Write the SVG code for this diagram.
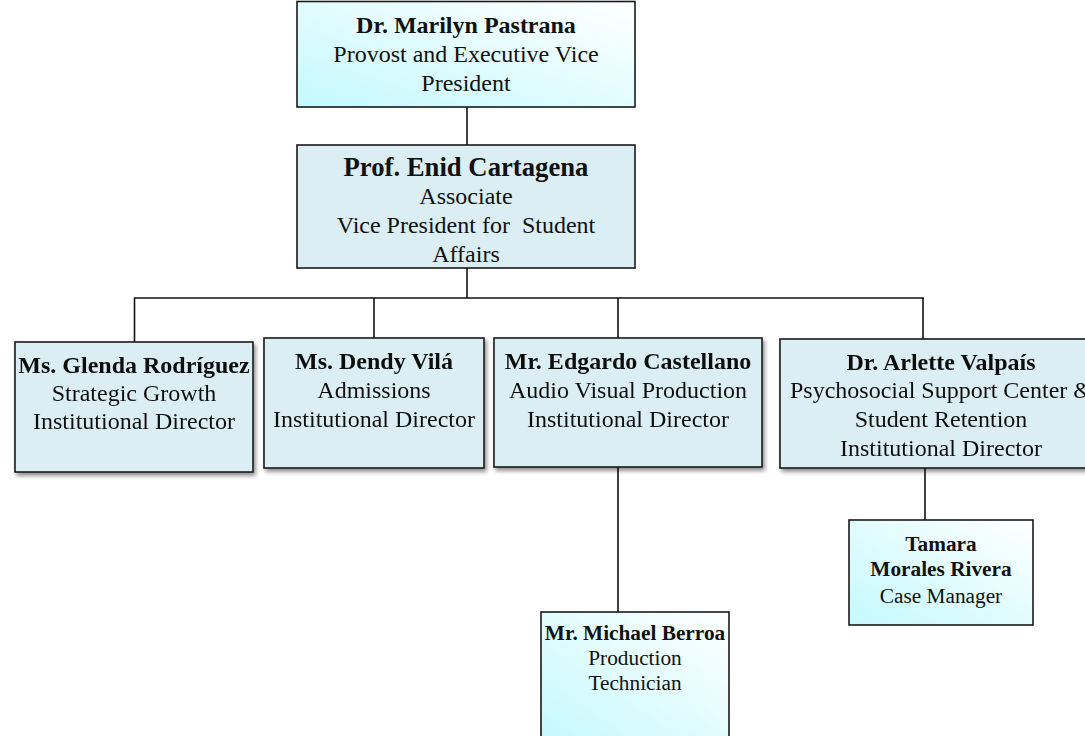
<svg xmlns="http://www.w3.org/2000/svg" width="1085" height="736" viewBox="0 0 1085 736">
<defs>
<linearGradient id="cyan" x1="0" y1="1" x2="1" y2="0">
<stop offset="0" stop-color="#c4f9fd"/>
<stop offset="1" stop-color="#ffffff"/>
</linearGradient>
<filter id="sh" x="-10%" y="-10%" width="125%" height="130%">
<feGaussianBlur in="SourceAlpha" stdDeviation="2"/>
<feOffset dx="2" dy="3" result="b"/>
<feComponentTransfer><feFuncA type="linear" slope="0.45"/></feComponentTransfer>
<feMerge><feMergeNode/><feMergeNode in="SourceGraphic"/></feMerge>
</filter>
</defs>
<style>
.box{stroke:#1a1a1a;stroke-width:1.6}
.blue{fill:#daeef3}
.grad{fill:url(#cyan)}
text{font-family:"Liberation Serif","Times New Roman",serif;fill:#111;text-anchor:middle}
.b{font-weight:bold}
.t24{font-size:24px}
.t27{font-size:26.7px}
.t21{font-size:21.3px}
.conn line{stroke:#111;stroke-width:1.6}
</style>
<rect width="1085" height="736" fill="#ffffff"/>
<g id="connectors" class="conn">
<line x1="467" y1="107" x2="467" y2="145"/>
<line x1="467" y1="268" x2="467" y2="298"/>
<line x1="134" y1="298" x2="923.8" y2="298"/>
<line x1="134.5" y1="298" x2="134.5" y2="342"/>
<line x1="374" y1="298" x2="374" y2="338"/>
<line x1="618" y1="298" x2="618" y2="338"/>
<line x1="923" y1="298" x2="923" y2="339"/>
<line x1="618" y1="467" x2="618" y2="612"/>
<line x1="925" y1="468" x2="925" y2="520"/>
</g>
<g id="marilyn">
<rect class="box grad" x="297" y="1.5" width="338" height="105.5"/>
<text class="t24 b" x="466" y="33">Dr. Marilyn Pastrana</text>
<text class="t24" x="466" y="62">Provost and Executive Vice</text>
<text class="t24" x="466" y="91">President</text>
</g>
<g id="enid">
<rect class="box blue" x="297" y="145" width="338" height="123"/>
<text class="t27 b" x="466" y="176">Prof. Enid Cartagena</text>
<text class="t24" x="466" y="204">Associate</text>
<text class="t24" x="466" y="233" xml:space="preserve">Vice President for  Student</text>
<text class="t24" x="466" y="262">Affairs</text>
</g>
<g id="glenda" filter="url(#sh)">
<rect class="box blue" x="15" y="342" width="238" height="130"/>
<text class="t24 b" x="134" y="373">Ms. Glenda Rodríguez</text>
<text class="t24" x="134" y="401">Strategic Growth</text>
<text class="t24" x="134" y="429">Institutional Director</text>
</g>
<g id="dendy" filter="url(#sh)">
<rect class="box blue" x="264" y="338" width="220" height="130"/>
<text class="t24 b" x="374" y="369">Ms. Dendy Vilá</text>
<text class="t24" x="374" y="398">Admissions</text>
<text class="t24" x="374" y="427">Institutional Director</text>
</g>
<g id="edgardo" filter="url(#sh)">
<rect class="box blue" x="494" y="338" width="268" height="129"/>
<text class="t24 b" x="628" y="369">Mr. Edgardo Castellano</text>
<text class="t24" x="628" y="398">Audio Visual Production</text>
<text class="t24" x="628" y="427">Institutional Director</text>
</g>
<g id="arlette" filter="url(#sh)">
<rect class="box blue" x="780" y="339" width="322" height="129"/>
<text class="t24 b" x="941" y="370">Dr. Arlette Valpaís</text>
<text class="t24" x="941" y="398">Psychosocial Support Center &amp;</text>
<text class="t24" x="941" y="427">Student Retention</text>
<text class="t24" x="941" y="456">Institutional Director</text>
</g>
<g id="michael">
<rect class="box grad" x="541" y="612" width="188" height="130"/>
<text class="t21 b" x="635" y="640">Mr. Michael Berroa</text>
<text class="t21" x="635" y="665">Production</text>
<text class="t21" x="635" y="690">Technician</text>
</g>
<g id="tamara">
<rect class="box grad" x="849" y="520" width="184" height="105"/>
<text class="t21 b" x="941" y="551">Tamara</text>
<text class="t21" x="941" y="576" font-weight="bold">Morales Rivera</text>
<text class="t21" x="941" y="603">Case Manager</text>
</g>
</svg>
